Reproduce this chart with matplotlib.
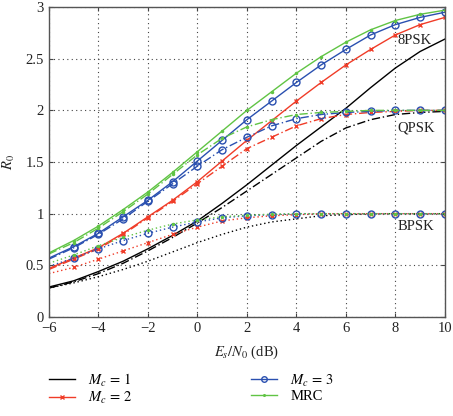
import matplotlib
matplotlib.use("Agg")
import matplotlib.pyplot as plt
import numpy as np

plt.rcParams['font.family'] = ['Liberation Serif', 'DejaVu Serif']
plt.rcParams['mathtext.fontset'] = 'stix'

snr = [-6, -5, -4, -3, -2, -1, 0, 1, 2, 3, 4, 5, 6, 7, 8, 9, 10]

# 8PSK (solid)
mc1_8psk = [0.29, 0.35, 0.44, 0.54, 0.66, 0.79, 0.93, 1.10, 1.28, 1.47, 1.66, 1.84, 2.02, 2.22, 2.41, 2.57, 2.69]
mc2_8psk = [0.47, 0.57, 0.67, 0.81, 0.97, 1.13, 1.31, 1.51, 1.71, 1.90, 2.09, 2.27, 2.44, 2.59, 2.73, 2.83, 2.90]
mc3_8psk = [0.57, 0.68, 0.81, 0.97, 1.13, 1.31, 1.51, 1.71, 1.91, 2.09, 2.27, 2.44, 2.59, 2.73, 2.83, 2.90, 2.95]
mrc_8psk = [0.62, 0.74, 0.88, 1.04, 1.21, 1.40, 1.60, 1.80, 2.00, 2.18, 2.36, 2.52, 2.66, 2.78, 2.87, 2.93, 2.97]

# QPSK (dash-dot)
mc1_qpsk = [0.28, 0.34, 0.42, 0.52, 0.64, 0.77, 0.91, 1.06, 1.22, 1.38, 1.54, 1.70, 1.83, 1.91, 1.96, 1.98, 1.99]
mc2_qpsk = [0.46, 0.56, 0.66, 0.80, 0.96, 1.12, 1.29, 1.46, 1.63, 1.74, 1.85, 1.92, 1.96, 1.98, 1.99, 2.00, 2.00]
mc3_qpsk = [0.56, 0.67, 0.80, 0.95, 1.12, 1.29, 1.46, 1.62, 1.74, 1.85, 1.92, 1.96, 1.98, 1.99, 2.00, 2.00, 2.00]
mrc_qpsk = [0.61, 0.72, 0.86, 1.02, 1.19, 1.38, 1.57, 1.73, 1.84, 1.91, 1.96, 1.98, 1.99, 2.00, 2.00, 2.00, 2.00]

# BPSK (dotted)
mc1_bpsk = [0.28, 0.33, 0.39, 0.46, 0.54, 0.63, 0.72, 0.80, 0.87, 0.92, 0.95, 0.98, 0.99, 1.00, 1.00, 1.00, 1.00]
mc2_bpsk = [0.42, 0.48, 0.56, 0.64, 0.72, 0.80, 0.87, 0.93, 0.96, 0.98, 0.99, 1.00, 1.00, 1.00, 1.00, 1.00, 1.00]
mc3_bpsk = [0.49, 0.57, 0.66, 0.74, 0.81, 0.87, 0.92, 0.96, 0.98, 0.99, 1.00, 1.00, 1.00, 1.00, 1.00, 1.00, 1.00]
mrc_bpsk = [0.52, 0.60, 0.69, 0.77, 0.84, 0.90, 0.94, 0.97, 0.985, 0.995, 1.00, 1.00, 1.00, 1.00, 1.00, 1.00, 1.00]

labels = ['$M_c\\,=\\,1$', '$M_c\\,=\\,2$', '$M_c\\,=\\,3$', 'MRC']

BLACK = '#000000'
RED = '#f03c28'
BLUE = '#2a50b0'
GREEN = '#60c444'

styles = [
    dict(color=BLACK, marker=None),
    dict(color=RED, marker='x', ms=3.5, mew=1.0),
    dict(color=BLUE, marker='o', ms=5, mfc='none', mew=1.0),
    dict(color=GREEN, marker='.', ms=3),
]

fig = plt.figure(figsize=(4.53, 4.16), dpi=100)
ax = fig.add_axes([0.108, 0.238, 0.874, 0.745])

groups = [
    ([mc1_8psk, mc2_8psk, mc3_8psk, mrc_8psk], '-'),
    ([mc1_qpsk, mc2_qpsk, mc3_qpsk, mrc_qpsk], (0, (6, 2, 1, 2))),
    ([mc1_bpsk, mc2_bpsk, mc3_bpsk, mrc_bpsk], (0, (1, 2))),
]

handles = []
for gi, (series, ls) in enumerate(groups):
    for si, ys in enumerate(series):
        st = dict(styles[si])
        h, = ax.plot(snr, ys, linestyle=ls, lw=1.0, markevery=slice(1, None), **st)
        if gi == 0:
            handles.append(h)

ax.text(8.1, 2.68, '8PSK', fontsize=10.5, va='center', ha='left', color='#222222')
ax.text(8.1, 1.83, 'QPSK', fontsize=10.5, va='center', ha='left', color='#222222')
ax.text(8.1, 0.88, 'BPSK', fontsize=10.5, va='center', ha='left', color='#222222')

ax.set_xlim(-6, 10)
ax.set_ylim(0, 3)
ax.set_xticks(np.arange(-6, 11, 2))
ax.set_yticks(np.arange(0, 3.01, 0.5))
ax.set_xticklabels(['\u22126', '\u22124', '\u22122', '0', '2', '4', '6', '8', '10'])
ax.set_yticklabels(['0', '0.5', '1', '1.5', '2', '2.5', '3'])
ax.tick_params(direction='in', top=True, right=True, labelsize=10.5, length=3,
               color='#444444', labelcolor='#222222')
ax.grid(True, linestyle=(0, (1, 3)), color='#444444', lw=0.8)
for s in ax.spines.values():
    s.set_color('#555555')
    s.set_linewidth(1.0)

ax.set_xlabel('$E_s/N_0$ (dB)', fontsize=10.5, labelpad=6, color='#222222')
ax.set_ylabel('$R_0$', fontsize=10.5, labelpad=6, color='#222222')

fig.legend(handles, labels, loc='lower left', bbox_to_anchor=(0.079, -0.008), ncol=2,
           frameon=False, fontsize=10.5, columnspacing=8.1, handlelength=1.8,
           labelspacing=0.1, handletextpad=0.9, markerscale=0.8, numpoints=1)

fig.savefig('out.png', dpi=100)
